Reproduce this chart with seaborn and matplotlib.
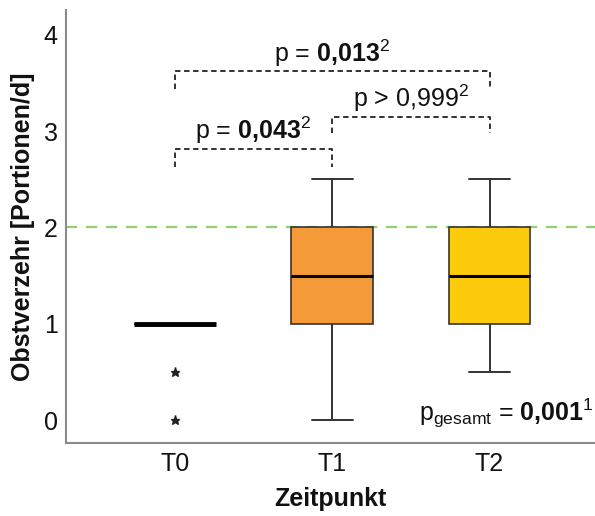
import matplotlib
matplotlib.use("Agg")
import matplotlib.pyplot as plt
import seaborn as sns
import pandas as pd

t0_values = [0, 0.5, 1, 1, 1, 1, 1, 1, 1]
t1_values = [0, 1, 1, 1.5, 1.5, 2, 2, 2.5]
t2_values = [0.5, 1, 1, 1.5, 1.5, 2, 2, 2.5]
categories = ["T0", "T1", "T2"]
box_colors = ["#FFFFFF", "#F59A38", "#FBCB0C"]
reference_line = 2
comparisons = [(0, 1, "p = $\\mathbf{0{,}043}^{\\mathregular{2}}$"),
               (1, 2, "p > 0,999$^{\\mathregular{2}}$"),
               (0, 2, "p = $\\mathbf{0{,}013}^{\\mathregular{2}}$")]
overall_label = "p$_{\\mathregular{gesamt}}$ = $\\mathbf{0{,}001}^{\\mathregular{1}}$"

sns.set_theme(style="white")
plt.rcParams['font.family'] = ['Liberation Sans', 'DejaVu Sans']
plt.rcParams['mathtext.fontset'] = 'custom'
plt.rcParams['mathtext.rm'] = 'Liberation Sans'
plt.rcParams['mathtext.bf'] = 'Liberation Sans:bold'
plt.rcParams['mathtext.it'] = 'Liberation Sans:italic'
plt.rcParams['text.color'] = '#111111'
plt.rcParams['axes.labelcolor'] = '#111111'
plt.rcParams['xtick.color'] = '#111111'
plt.rcParams['ytick.color'] = '#111111'

df = pd.DataFrame({
    "Zeitpunkt": ["T0"] * len(t0_values) + ["T1"] * len(t1_values) + ["T2"] * len(t2_values),
    "value": t0_values + t1_values + t2_values,
})

fig = plt.figure(figsize=(5.95, 5.16), dpi=100)
ax = fig.add_axes([0.111, 0.141, 0.889, 0.84])

ax.axhline(reference_line, color="#8FD16E", lw=1.6, ls=(0, (5, 4)), zorder=0)

sns.boxplot(data=df, x="Zeitpunkt", y="value", hue="Zeitpunkt", order=categories,
            palette=dict(zip(categories, box_colors)), legend=False, width=0.52,
            saturation=1, linecolor="#333333", linewidth=1.2, ax=ax,
            medianprops=dict(color="black", lw=2.2),
            flierprops=dict(marker="*", markersize=6.5, markerfacecolor="#222222",
                            markeredgecolor="#222222"),
            whiskerprops=dict(color="#333333", lw=1.4),
            capprops=dict(color="#333333", lw=1.4))

# make T0 collapsed box line thick
for ln in ax.lines:
    xd, yd = ln.get_xdata(), ln.get_ydata()
    if len(xd) == 2 and yd[0] == yd[1] == 1 and abs(xd[0] + xd[1]) < 1e-6 and abs(xd[1] - xd[0]) > 0.4:
        ln.set_linewidth(3.5)

ax.set_xlim(-0.69, 2.67)
ax.set_ylim(-0.24, 4.26)
ax.set_yticks([0, 1, 2, 3, 4])
ax.tick_params(axis="both", length=0, labelsize=18, pad=6)
ax.set_xlabel("Zeitpunkt", fontsize=18, fontweight="bold", labelpad=8)
ax.set_ylabel("Obstverzehr [Portionen/d]", fontsize=18, fontweight="bold", labelpad=6)
for s in ["top", "right"]:
    ax.spines[s].set_visible(False)
for s in ["left", "bottom"]:
    ax.spines[s].set_color("#8a8a8a")
    ax.spines[s].set_linewidth(1.5)

bracket_levels = {(0, 1): (2.82, 2.63), (1, 2): (3.15, 2.98), (0, 2): (3.62, 3.44)}
for a, b, label in comparisons:
    top, low = bracket_levels[(a, b)]
    ax.plot([a, a, b, b], [low, top, top, low], color="#222222", lw=1.3,
            ls=(0, (3, 2)), clip_on=False)
    ax.text((a + b) / 2, top + 0.03, label, ha="center", va="bottom", fontsize=18)

ax.text(2.66, -0.1, overall_label, ha="right", va="bottom", fontsize=18)

fig.savefig("out.png", dpi=100)
